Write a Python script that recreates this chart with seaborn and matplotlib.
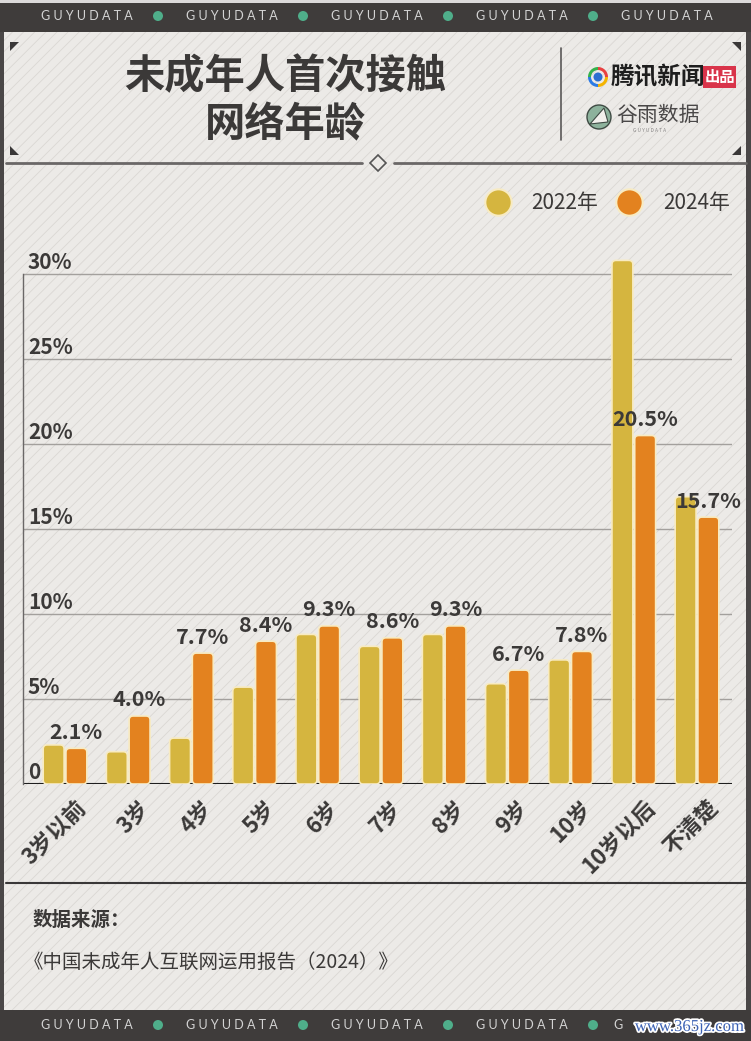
import pandas as pd
import matplotlib
matplotlib.use('Agg')
import matplotlib.pyplot as plt
import matplotlib.patheffects as pe
import matplotlib.transforms as mtransforms
from matplotlib.patches import Rectangle, FancyBboxPatch, Polygon, Circle, Wedge
from matplotlib.lines import Line2D
import seaborn as sns

# data
ages = ['3岁以前', '3岁', '4岁', '5岁', '6岁', '7岁', '8岁', '9岁', '10岁', '10岁以后', '不清楚']
share_2022 = [2.3, 1.9, 2.7, 5.7, 8.8, 8.1, 8.8, 5.9, 7.3, 30.8, 16.9]
share_2024 = [2.1, 4.0, 7.7, 8.4, 9.3, 8.6, 9.3, 6.7, 7.8, 20.5, 15.7]
years = ['2022年', '2024年']
y_ticks = [0, 5, 10, 15, 20, 25, 30]
y_tick_labels = ['0', '5%', '10%', '15%', '20%', '25%', '30%']

YELLOW = '#D5B53F'
ORANGE = '#E3821F'
EDGE = '#F8EBC2'
DARK = '#3B3938'
BAND = '#3F3C3B'
BG = '#ECEAE7'

sns.set_style('white')
plt.rcParams['font.family'] = ['Noto Sans CJK SC', 'DejaVu Sans']
plt.rcParams['hatch.linewidth'] = 0.6
plt.rcParams['hatch.color'] = '#DAD7D3'

W, H = 751, 1041
fig = plt.figure(figsize=(W / 100, H / 100), dpi=100)
fig.patch.set_facecolor('#4A4747')

# ---- decorative background in pixel coordinates
bg = fig.add_axes([0, 0, 1, 1])
bg.set_xlim(0, W)
bg.set_ylim(H, 0)
bg.axis('off')

bg.add_patch(Rectangle((4, 32), W - 9, 978, facecolor=BG, edgecolor='#DAD7D3',
                       hatch='///', lw=0, zorder=0))
bg.add_patch(Rectangle((0, 3), W, 29, facecolor=BAND, lw=0, zorder=1))
bg.add_patch(Rectangle((0, 0), W, 3, facecolor='#DCDADA', lw=0, zorder=1))
bg.add_patch(Rectangle((0, 1010), W, 31, facecolor=BAND, lw=0, zorder=1))

band_font = dict(color='#D4D4D4', fontsize=9, family=['Lato', 'DejaVu Sans'], va='center', zorder=2)
for ybase in (16, 1025):
    for k in range(5):
        if ybase == 1025 and k == 4:
            # last word is mostly hidden by the site watermark
            bg.text(613, ybase, 'G', ha='left', **band_font)
        else:
            bg.text(87 + 145 * k, ybase, 'G U Y U D A T A', ha='center', **band_font)
        if k < 4:
            bg.add_patch(Circle((158 + 145 * k, ybase), 5, facecolor='#4FAE8A', lw=0, zorder=2))

# corner triangles of the title panel
tri = [[(10, 42), (19, 42), (10, 51)], [(741, 42), (732, 42), (741, 51)],
       [(10, 155), (19, 155), (10, 146)], [(741, 155), (732, 155), (741, 146)]]
for t in tri:
    bg.add_patch(Polygon(t, closed=True, facecolor='#3A3838', lw=0, zorder=2))

# title
bg.text(285, 77, '未成年人首次接触', fontsize=29, weight='heavy', color=DARK,
        ha='center', va='center', zorder=3)
bg.text(285, 125, '网络年龄', fontsize=29, weight='heavy', color=DARK,
        ha='center', va='center', zorder=3)
bg.plot([561, 561], [48, 140], color='#5A5858', lw=1.2, zorder=3)

# separator with diamond
bg.plot([6, 362], [163, 163], color='#6A6767', lw=2, zorder=3)
bg.plot([394, 746], [163, 163], color='#6A6767', lw=2, zorder=3)
bg.add_patch(Polygon([(378, 155), (386, 163), (378, 171), (370, 163)], closed=True,
                     facecolor=BG, edgecolor='#555', lw=1.2, zorder=3))

# tencent news mark
ring = [(90, 180, '#2C7BE5'), (0, 90, '#F4B400'), (270, 360, '#E84141'), (180, 270, '#35B24C')]
for a1, a2, c in ring:
    bg.add_patch(Wedge((598, 77), 10, a1, a2, width=3, facecolor=c, lw=0, zorder=3))
bg.add_patch(Circle((598, 77), 4.5, facecolor='#2C6FD0', lw=0, zorder=3))
bg.text(611, 77, '腾讯新闻', fontsize=17, weight='bold', color='#1E1E1E',
        ha='left', va='center', zorder=3)
bg.add_patch(Rectangle((703, 66), 33, 22, facecolor='#D9344A', lw=0, zorder=3))
bg.text(719.5, 77, '出品', fontsize=11, weight='bold', color='white',
        ha='center', va='center', zorder=4)

# guyu data mark
bg.add_patch(Circle((599, 117), 12, facecolor='#8DB29C', edgecolor='#3E4A43', lw=1, zorder=3))
bg.add_patch(Polygon([(590, 124), (604, 108), (608, 122)], closed=True,
                     facecolor='#F2F0EC', edgecolor='#3E4A43', lw=0.8, zorder=4))
bg.text(616, 115, '谷雨数据', fontsize=15, color='#4A4848', ha='left', va='center', zorder=3)
bg.text(650, 131, 'G U Y U D A T A', fontsize=3.5, color='#8A8888', ha='center', va='center', zorder=3)

# footer
bg.plot([6, 746], [883, 883], color='#3A3838', lw=1.5, zorder=3)
bg.text(33, 920, '数据来源：', fontsize=14, weight='bold', color=DARK, ha='left', va='center', zorder=3)
bg.text(24, 962, '《中国未成年人互联网运用报告（2024）》', fontsize=14, color=DARK,
        ha='left', va='center', zorder=3)
bg.text(744, 1027, 'www.365jz.com', fontsize=12, color='#3D63B5', ha='right', va='center',
        family=['Liberation Serif', 'DejaVu Serif'], zorder=5,
        path_effects=[pe.withStroke(linewidth=2.5, foreground='white')])

# ---- chart axes: 0% at y=784 px, 17 px per percent
y0_px, px_per_pct, ymax = 784, 17, 32
left_px, right_px = 23, 732
ax = fig.add_axes([left_px / W, (H - y0_px) / H, (right_px - left_px) / W, ymax * px_per_pct / H])
ax.set_zorder(2)
ax.patch.set_alpha(0)

df = pd.DataFrame({
    'age': ages * 2,
    'year': [years[0]] * len(ages) + [years[1]] * len(ages),
    'share': share_2022 + share_2024,
})
sns.barplot(data=df, x='age', y='share', hue='year', palette=[YELLOW, ORANGE],
            width=0.72, gap=0.08, saturation=1, legend=False, ax=ax, zorder=3)

ax.set_xlim(-0.665, 10.554)
ax.set_ylim(0, ymax)

# replace the square bars with rounded ones
x_px = ax.transData.transform((1, 0))[0] - ax.transData.transform((0, 0))[0]
y_px = ax.transData.transform((0, 1))[1] - ax.transData.transform((0, 0))[1]
aspect = x_px / y_px
radius = 4 / x_px
for bar in list(ax.patches):
    bx, by, bw, bh = bar.get_x(), bar.get_y(), bar.get_width(), bar.get_height()
    face = bar.get_facecolor()
    bar.set_visible(False)
    ax.add_patch(FancyBboxPatch((bx, by), bw, bh,
                                boxstyle=f'round,pad=0,rounding_size={radius}',
                                mutation_aspect=aspect, facecolor=face,
                                edgecolor=EDGE, lw=1.2, zorder=3))

# value labels for 2024
for bar in ax.containers[1]:
    cx = bar.get_x() + bar.get_width() / 2
    ax.annotate(f'{bar.get_height():.1f}%', (cx, bar.get_height()), xytext=(0, 4),
                textcoords='offset points', ha='center', va='bottom',
                fontsize=15.5, weight='bold', color=DARK, zorder=4)

# grid, baseline and y labels
ax.set_yticks(y_ticks)
ax.yaxis.grid(True, color='#A3A09D', lw=1)
ax.set_axisbelow(True)
ax.axhline(0, color='#1E1E1E', lw=1.5, zorder=2)
for v, lab in zip(y_ticks, y_tick_labels):
    ax.annotate(lab, (0, v), xycoords=('axes fraction', 'data'), xytext=(3.5, 0.8),
                textcoords='offset points', ha='left', va='bottom',
                fontsize=15, weight='bold', color=DARK, zorder=4)

for s in ['top', 'right', 'bottom']:
    ax.spines[s].set_visible(False)
ax.spines['left'].set_bounds(0, 30)
ax.spines['left'].set_color('#6A6767')
ax.spines['left'].set_linewidth(1)
ax.tick_params(length=0, labelleft=False, pad=9)
ax.set_xlabel('')
ax.set_ylabel('')
shift = mtransforms.ScaledTranslation(0.1, 0, fig.dpi_scale_trans)
for lab in ax.get_xticklabels():
    lab.set_rotation(45)
    lab.set_ha('right')
    lab.set_va('top')
    lab.set_rotation_mode('anchor')
    lab.set_fontsize(16)
    lab.set_weight('bold')
    lab.set_color(DARK)
    lab.set_transform(lab.get_transform() + shift)

# legend
handles = [Line2D([], [], marker='o', ls='', markersize=19, markerfacecolor=c,
                  markeredgecolor=EDGE, markeredgewidth=1.5, label=lab)
           for c, lab in zip([YELLOW, ORANGE], years)]
ax.legend(handles=handles, ncol=2, frameon=False, loc='center right',
          bbox_to_anchor=(738 / W, 1 - 203 / H), bbox_transform=fig.transFigure,
          fontsize=15, labelcolor=DARK, handletextpad=1.0, columnspacing=0.9,
          handlelength=1.2, borderaxespad=0)

fig.savefig('out.png', dpi=100, facecolor=fig.get_facecolor())
